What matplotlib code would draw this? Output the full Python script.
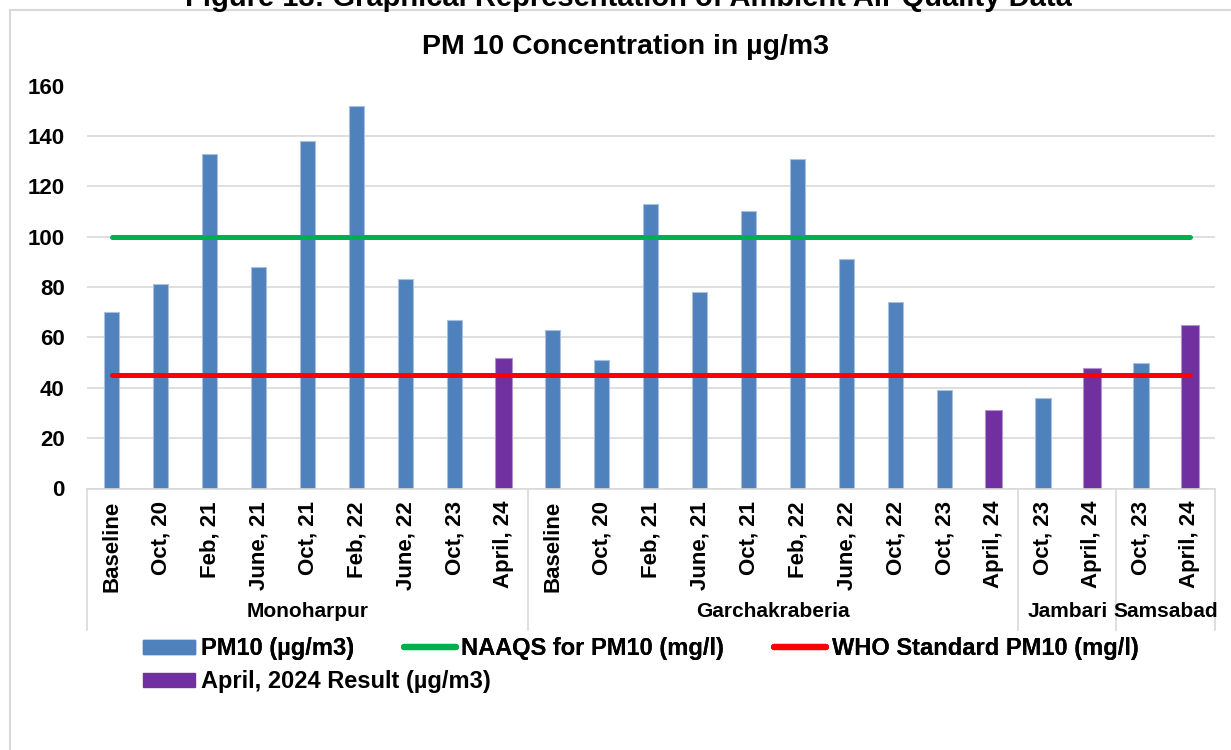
import matplotlib
matplotlib.use('Agg')
import matplotlib.pyplot as plt
from matplotlib.patches import Rectangle, Patch
from matplotlib.lines import Line2D

plt.rcParams['font.family'] = ['Liberation Sans', 'DejaVu Sans']
plt.rcParams['font.weight'] = 'bold'

# data
groups = ['Monoharpur', 'Garchakraberia', 'Jambari', 'Samsabad']
periods = [
    ['Baseline', 'Oct, 20', 'Feb, 21', 'June, 21', 'Oct, 21', 'Feb, 22', 'June, 22', 'Oct, 23', 'April, 24'],
    ['Baseline', 'Oct, 20', 'Feb, 21', 'June, 21', 'Oct, 21', 'Feb, 22', 'June, 22', 'Oct, 22', 'Oct, 23', 'April, 24'],
    ['Oct, 23', 'April, 24'],
    ['Oct, 23', 'April, 24'],
]
pm10 = [
    [70, 81, 133, 88, 138, 152, 83, 67, 52],
    [63, 51, 113, 78, 110, 131, 91, 74, 39, 31],
    [36, 48],
    [50, 65],
]
april_label = 'April, 24'
naaqs_pm10 = 100
who_pm10 = 45

yticks = [0, 20, 40, 60, 80, 100, 120, 140, 160]

blue = '#4F81BD'
purple = '#7030A0'
green = '#00B050'
red = '#FF0000'
grey = '#D9D9D9'
fs = 16

labels = [p for grp in periods for p in grp]
values = [v for grp in pm10 for v in grp]
x = list(range(len(labels)))

fig = plt.figure(figsize=(12.31, 7.5), dpi=100)
ax = fig.add_axes([87 / 1231, 1 - 488.5 / 750, 1127.5 / 1231, 403 / 750])

# outer chart frame
fig.patches.append(Rectangle((10 / 1231, -0.05), 1.1, 1 - 10 / 750 + 0.05,
                             transform=fig.transFigure, fill=False,
                             edgecolor=grey, lw=1.5))

bx = [i for i in x if labels[i] != april_label]
ax.bar(bx, [values[i] for i in bx], width=0.31, color=blue,
       edgecolor='#A9C0DF', lw=0.8, zorder=2)
px = [i for i in x if labels[i] == april_label]
ax.bar(px, [values[i] for i in px], width=0.35, color=purple,
       edgecolor='#B393CF', lw=0.8, zorder=2)

ax.plot(x, [naaqs_pm10] * len(x), color=green, lw=3.6,
        solid_capstyle='round', zorder=3)
ax.plot(x, [who_pm10] * len(x), color=red, lw=3.6,
        solid_capstyle='round', zorder=3)

ax.set_xlim(-0.5, len(x) - 0.5)
ax.set_ylim(0, 160)
ax.set_yticks(yticks)
ax.set_yticklabels([str(t) for t in yticks], fontsize=fs, fontweight='bold')
ax.set_xticks(x)
ax.set_xticklabels(labels, rotation=90, fontsize=fs, fontweight='bold')
ax.tick_params(axis='y', length=0, pad=16)
ax.tick_params(axis='x', length=0, pad=9)
ax.yaxis.grid(True, color=grey, lw=1.2, zorder=0)
ax.set_axisbelow(True)
for s in ['left', 'right', 'top']:
    ax.spines[s].set_visible(False)
ax.spines['bottom'].set_color(grey)
ax.spines['bottom'].set_linewidth(1.2)

# group separators and group names
trans = ax.get_xaxis_transform()
edges = [-0.5]
for grp in periods:
    edges.append(edges[-1] + len(grp))
for e in edges:
    ax.plot([e, e], [0, -0.351], color=grey, lw=1.2, transform=trans, clip_on=False)
for i, g in enumerate(groups):
    ax.text((edges[i] + edges[i + 1]) / 2, -0.305, g, transform=trans,
            ha='center', va='center', fontsize=15, fontweight='bold')

fig.text(626 / 1231, 1 - 47 / 750, 'PM 10 Concentration in µg/m3',
         ha='center', va='center', fontsize=20.5, fontweight='bold')
fig.text(628 / 1231, 1 - 6 / 750,
         'Figure 13: Graphical Representation of Ambient Air Quality Data',
         ha='center', va='baseline', fontsize=21, fontweight='bold')

# legend: first row with three entries, second row with one
leg_kw = dict(loc='upper left', frameon=False, borderpad=0, borderaxespad=0,
              handlelength=2.2, handleheight=0.55, handletextpad=0.25,
              columnspacing=2.1, prop={'size': 17, 'weight': 'bold'})
row1 = fig.legend(
    [Patch(facecolor=blue, edgecolor=blue),
     Line2D([], [], color=green, lw=4.5, solid_capstyle='round'),
     Line2D([], [], color=red, lw=4.5, solid_capstyle='round')],
    ['PM10 (µg/m3)', 'NAAQS for PM10 (mg/l)', 'WHO Standard PM10 (mg/l)'],
    ncol=3, bbox_to_anchor=(143 / 1231, 1 - 637 / 750), **leg_kw)
fig.add_artist(row1)
fig.legend([Patch(facecolor=purple, edgecolor=purple)],
           ['April, 2024 Result (µg/m3)'],
           bbox_to_anchor=(143 / 1231, 1 - 670 / 750), **leg_kw)

fig.savefig('out.png', dpi=100)
